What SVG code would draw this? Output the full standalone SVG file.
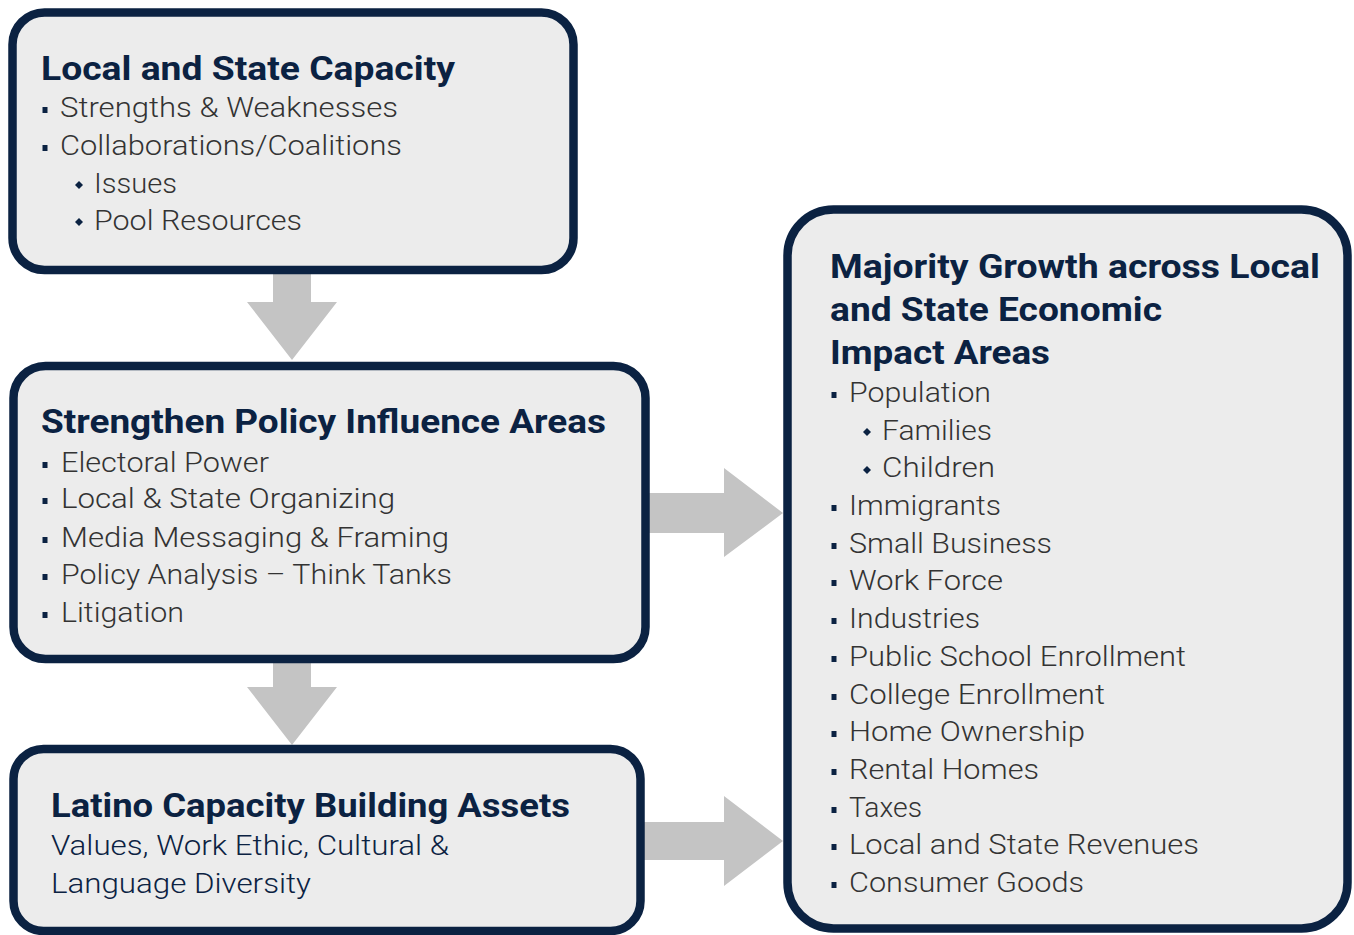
<svg xmlns="http://www.w3.org/2000/svg" xmlns:xlink="http://www.w3.org/1999/xlink" width="1354" height="935" viewBox="0 0 1354 935">
<style>
.box{fill:#ececec;stroke:#0b2242;stroke-width:8.5}
.arrow{fill:#c4c4c4}
text{font-family:Roboto,"Liberation Sans",sans-serif}
.title{font-weight:bold;font-size:33px;fill:#0b2242}
.item{font-size:28px;font-weight:300;fill:#333333}
.navy{fill:#0b2242}
.b{fill:#0b2242}
</style>
<defs>
<rect id="sq" x="-2.5" y="-3" width="5" height="6" class="b"/>
<polygon id="dm" points="0,-4 4,0 0,4 -4,0" class="b"/>
</defs>
<g id="connectors">
<polygon class="arrow" points="273,270 311,270 311,302 337,302 292,360 247,302 273,302"/>
<polygon class="arrow" points="273,659 311,659 311,687 337,687 292,745 247,687 273,687"/>
<polygon class="arrow" points="646,493 724,493 724,468 783,513 724,557 724,533 646,533"/>
<polygon class="arrow" points="641,822 724,822 724,796 783,841 724,886 724,860 641,860"/>
</g>
<g id="node-local-state">
<rect class="box" x="12.5" y="12.5" width="561" height="257.5" rx="32"/>
<text class="title" x="41" y="80" textLength="414" lengthAdjust="spacingAndGlyphs">Local and State Capacity</text>
<use xlink:href="#sq" x="45" y="110"/>
<text class="item" x="60" y="117" textLength="338" lengthAdjust="spacingAndGlyphs">Strengths &amp; Weaknesses</text>
<use xlink:href="#sq" x="45" y="148"/>
<text class="item" x="60" y="155" textLength="342" lengthAdjust="spacingAndGlyphs">Collaborations/Coalitions</text>
<use xlink:href="#dm" x="79" y="185"/>
<text class="item" x="94" y="193" textLength="83" lengthAdjust="spacingAndGlyphs">Issues</text>
<use xlink:href="#dm" x="79" y="222"/>
<text class="item" x="94" y="230" textLength="208" lengthAdjust="spacingAndGlyphs">Pool Resources</text>
</g>
<g id="node-policy">
<rect class="box" x="13.5" y="366" width="632" height="293" rx="32"/>
<text class="title" x="41" y="433" textLength="565" lengthAdjust="spacingAndGlyphs">Strengthen Policy Influence Areas</text>
<use xlink:href="#sq" x="45" y="465"/>
<text class="item" x="61" y="472" textLength="208" lengthAdjust="spacingAndGlyphs">Electoral Power</text>
<use xlink:href="#sq" x="45" y="501"/>
<text class="item" x="61" y="508" textLength="334" lengthAdjust="spacingAndGlyphs">Local &amp; State Organizing</text>
<use xlink:href="#sq" x="45" y="540"/>
<text class="item" x="61" y="547" textLength="388" lengthAdjust="spacingAndGlyphs">Media Messaging &amp; Framing</text>
<use xlink:href="#sq" x="45" y="577"/>
<text class="item" x="61" y="584" textLength="391" lengthAdjust="spacingAndGlyphs">Policy Analysis – Think Tanks</text>
<use xlink:href="#sq" x="45" y="615"/>
<text class="item" x="61" y="622" textLength="123" lengthAdjust="spacingAndGlyphs">Litigation</text>
</g>
<g id="node-latino">
<rect class="box" x="13.5" y="749" width="627" height="182" rx="30"/>
<text class="title" x="51" y="817" textLength="519" lengthAdjust="spacingAndGlyphs">Latino Capacity Building Assets</text>
<text class="item navy" x="51" y="855" textLength="398" lengthAdjust="spacingAndGlyphs">Values, Work Ethic, Cultural &amp;</text>
<text class="item navy" x="51" y="893" textLength="260" lengthAdjust="spacingAndGlyphs">Language Diversity</text>
</g>
<g id="node-majority">
<rect class="box" x="787.5" y="209.5" width="560" height="719" rx="46"/>
<text class="title" x="830" y="278" textLength="490" lengthAdjust="spacingAndGlyphs">Majority Growth across Local</text>
<text class="title" x="830" y="321" textLength="332" lengthAdjust="spacingAndGlyphs">and State Economic</text>
<text class="title" x="830" y="364" textLength="220" lengthAdjust="spacingAndGlyphs">Impact Areas</text>
<use xlink:href="#sq" x="834" y="395"/>
<text class="item" x="849" y="402" textLength="142" lengthAdjust="spacingAndGlyphs">Population</text>
<use xlink:href="#dm" x="867" y="432"/>
<text class="item" x="882" y="440" textLength="110" lengthAdjust="spacingAndGlyphs">Families</text>
<use xlink:href="#dm" x="867" y="470"/>
<text class="item" x="882" y="477" textLength="113" lengthAdjust="spacingAndGlyphs">Children</text>
<use xlink:href="#sq" x="834" y="508"/>
<text class="item" x="849" y="515" textLength="152" lengthAdjust="spacingAndGlyphs">Immigrants</text>
<use xlink:href="#sq" x="834" y="546"/>
<text class="item" x="849" y="553" textLength="203" lengthAdjust="spacingAndGlyphs">Small Business</text>
<use xlink:href="#sq" x="834" y="583"/>
<text class="item" x="849" y="590" textLength="154" lengthAdjust="spacingAndGlyphs">Work Force</text>
<use xlink:href="#sq" x="834" y="621"/>
<text class="item" x="849" y="628" textLength="131" lengthAdjust="spacingAndGlyphs">Industries</text>
<use xlink:href="#sq" x="834" y="659"/>
<text class="item" x="849" y="666" textLength="337" lengthAdjust="spacingAndGlyphs">Public School Enrollment</text>
<use xlink:href="#sq" x="834" y="697"/>
<text class="item" x="849" y="704" textLength="256" lengthAdjust="spacingAndGlyphs">College Enrollment</text>
<use xlink:href="#sq" x="834" y="734"/>
<text class="item" x="849" y="741" textLength="236" lengthAdjust="spacingAndGlyphs">Home Ownership</text>
<use xlink:href="#sq" x="834" y="772"/>
<text class="item" x="849" y="779" textLength="190" lengthAdjust="spacingAndGlyphs">Rental Homes</text>
<use xlink:href="#sq" x="834" y="810"/>
<text class="item" x="849" y="817" textLength="73" lengthAdjust="spacingAndGlyphs">Taxes</text>
<use xlink:href="#sq" x="834" y="847"/>
<text class="item" x="849" y="854" textLength="350" lengthAdjust="spacingAndGlyphs">Local and State Revenues</text>
<use xlink:href="#sq" x="834" y="885"/>
<text class="item" x="849" y="892" textLength="235" lengthAdjust="spacingAndGlyphs">Consumer Goods</text>
</g>
</svg>
